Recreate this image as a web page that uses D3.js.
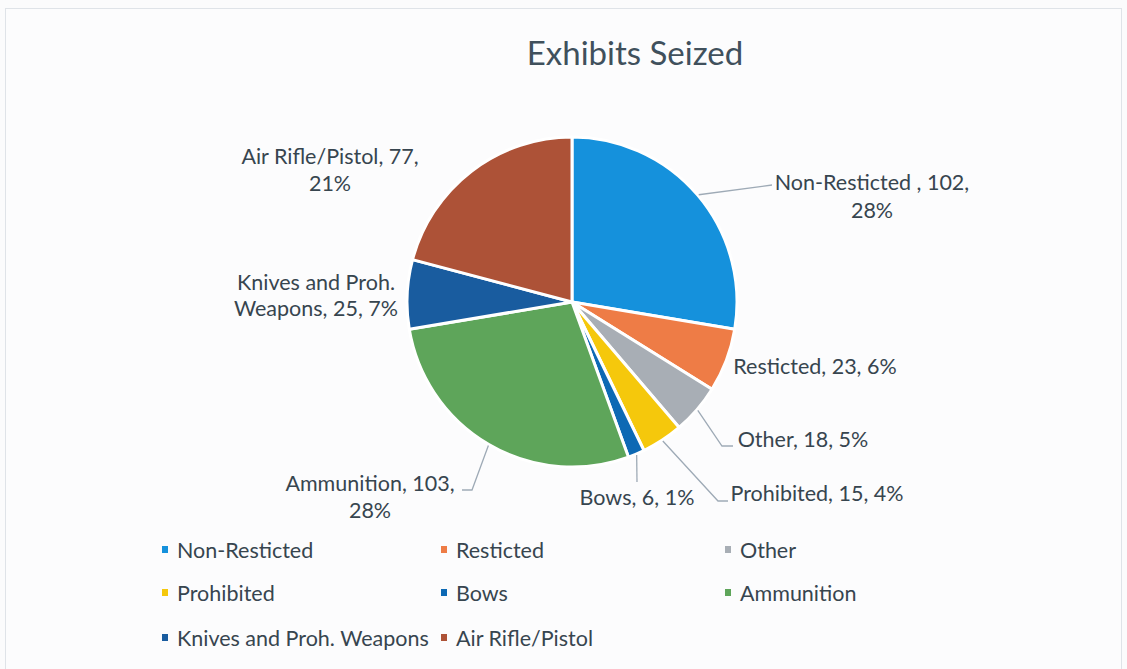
<!DOCTYPE html>
<html>
<head>
<meta charset="utf-8">
<script src="https://cdn.jsdelivr.net/npm/d3@7"></script>
<style>
  html, body { margin: 0; padding: 0; background: #fbfbfc; }
  svg { display: block; }
  text { font-family: Lato, "Open Sans", sans-serif; fill: #37454f; }
</style>
</head>
<body>
<svg id="chart" width="1127" height="669"></svg>
<script>
// Exhibits seized, by category (clockwise from 12 o'clock)
const categories = ["Non-Resticted", "Resticted", "Other", "Prohibited", "Bows", "Ammunition", "Knives and Proh. Weapons", "Air Rifle/Pistol"];
const counts = [102, 23, 18, 15, 6, 103, 25, 77];
const percentLabels = ["28%", "6%", "5%", "4%", "1%", "28%", "7%", "21%"];
const colors = ["#1591dc", "#ee7c46", "#a8aeb5", "#f5c80c", "#0d69b4", "#5ea55a", "#195c9f", "#ad5237"];

// Layout of the data labels: text lines, block centre, optional leader path end points
const labelLayout = {
  "Non-Resticted":            { lines: ["Non-Resticted , 102,", "28%"], x: 872, y: [182, 210], leader: [[772, 185]] },
  "Resticted":                { lines: ["Resticted, 23, 6%"], x: 815, y: [366] },
  "Other":                    { lines: ["Other, 18, 5%"], x: 803, y: [439], leader: [[722, 446], [733, 446]] },
  "Prohibited":               { lines: ["Prohibited, 15, 4%"], x: 817, y: [493], leader: [[718, 501], [728, 501]] },
  "Bows":                     { lines: ["Bows, 6, 1%"], x: 637, y: [497], leader: [[637, 482]] },
  "Ammunition":               { lines: ["Ammunition, 103,", "28%"], x: 370, y: [483, 510], leader: [[472, 490], [462, 490]] },
  "Knives and Proh. Weapons": { lines: ["Knives and Proh.", "Weapons, 25, 7%"], x: 316, y: [282, 308] },
  "Air Rifle/Pistol":         { lines: ["Air Rifle/Pistol, 77,", "21%"], x: 330, y: [156, 183] }
};

const data = categories.map((c, i) => ({ name: c, value: counts[i], pct: percentLabels[i], color: colors[i] }));

const svg = d3.select("#chart");

// chart frame
svg.append("rect")
  .attr("x", 5.5).attr("y", 8.5)
  .attr("width", 1116).attr("height", 670)
  .attr("fill", "#fcfcfd")
  .attr("stroke", "#dfe3e8")
  .attr("stroke-width", 1);

// title
svg.append("text")
  .attr("x", 635).attr("y", 65)
  .attr("text-anchor", "middle")
  .style("font-size", "33px")
  .style("fill", "#40505c")
  .text("Exhibits Seized");

const cx = 572, cy = 302, radius = 165;

const pie = d3.pie().value(d => d.value).sort(null);
const arc = d3.arc().innerRadius(0).outerRadius(radius);
const arcs = pie(data);

const g = svg.append("g").attr("transform", `translate(${cx},${cy})`);

g.selectAll("path.slice")
  .data(arcs)
  .join("path")
  .attr("class", "slice")
  .attr("d", arc)
  .attr("fill", d => d.data.color)
  .attr("stroke", "#ffffff")
  .attr("stroke-width", 3)
  .attr("stroke-linejoin", "round");

// leader lines from the slice edge at the mid angle
arcs.forEach(a => {
  const lay = labelLayout[a.data.name];
  if (!lay.leader) return;
  const mid = (a.startAngle + a.endAngle) / 2;
  const start = [cx + (radius + 1) * Math.sin(mid), cy - (radius + 1) * Math.cos(mid)];
  const pts = [start].concat(lay.leader);
  svg.append("path")
    .attr("d", d3.line()(pts))
    .attr("fill", "none")
    .attr("stroke", "#9eaab6")
    .attr("stroke-width", 1.3);
});

// data labels
arcs.forEach(a => {
  const lay = labelLayout[a.data.name];
  lay.lines.forEach((ln, i) => {
    svg.append("text")
      .attr("x", lay.x)
      .attr("y", lay.y[i])
      .attr("dy", "0.35em")
      .attr("text-anchor", "middle")
      .style("font-size", "21.5px")
      .text(ln);
  });
});

// legend, three columns
const legendCols = [177, 456, 740];
const legendRows = [550, 593, 638];
const legend = svg.append("g");
data.forEach((d, i) => {
  const col = i % 3, row = Math.floor(i / 3);
  const x = legendCols[col], y = legendRows[row];
  legend.append("rect")
    .attr("x", x - 15).attr("y", y - 4)
    .attr("width", 6).attr("height", 7)
    .attr("fill", d.color);
  legend.append("text")
    .attr("x", x).attr("y", y)
    .attr("dy", "0.35em")
    .style("font-size", "21.5px")
    .text(d.name);
});
</script>
</body>
</html>
